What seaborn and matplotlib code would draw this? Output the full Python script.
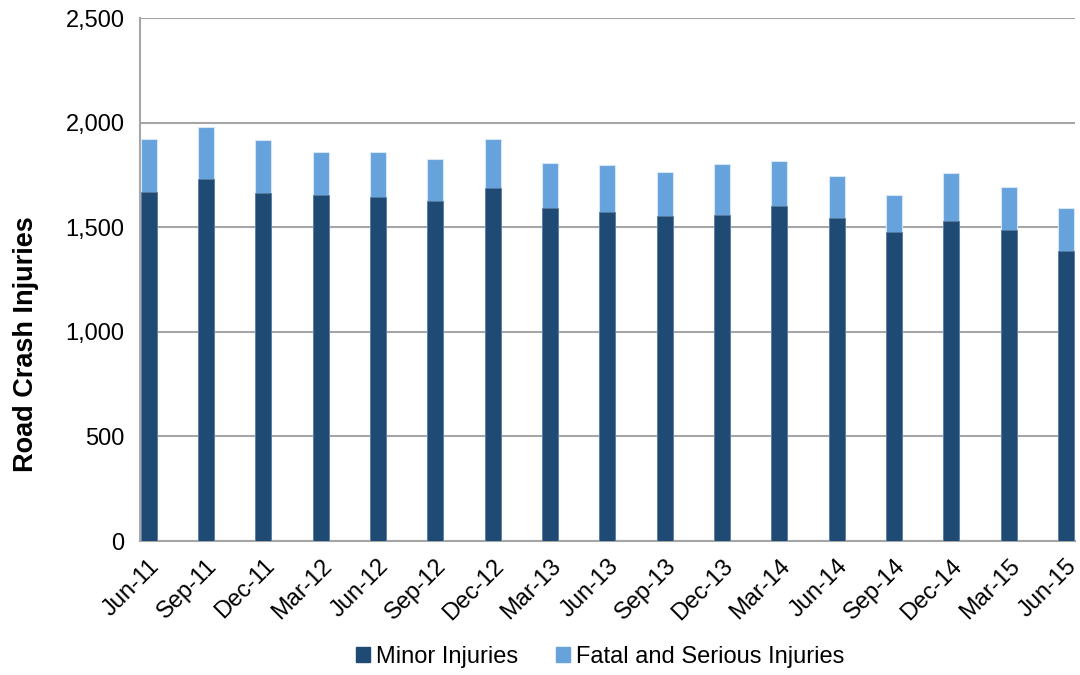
import matplotlib
matplotlib.use("Agg")
import matplotlib.pyplot as plt
import seaborn as sns
import pandas as pd
from matplotlib.patches import Patch
from matplotlib.ticker import FuncFormatter

quarters = ["Jun-11", "Sep-11", "Dec-11", "Mar-12", "Jun-12", "Sep-12", "Dec-12",
            "Mar-13", "Jun-13", "Sep-13", "Dec-13", "Mar-14", "Jun-14", "Sep-14",
            "Dec-14", "Mar-15", "Jun-15"]
minor = [1668, 1730, 1665, 1653, 1647, 1624, 1690, 1591, 1572, 1555, 1557,
         1601, 1545, 1476, 1530, 1486, 1385]
total = [1923, 1979, 1918, 1859, 1862, 1828, 1923, 1808, 1799, 1763, 1804,
         1816, 1744, 1653, 1760, 1693, 1593]

df = pd.DataFrame({"quarter": quarters, "minor": minor, "total": total})

sns.set_style("white")
plt.rcParams["font.family"] = ["Liberation Sans", "DejaVu Sans"]
plt.rcParams["text.color"] = "black"
plt.rcParams["axes.labelcolor"] = "black"
plt.rcParams["xtick.color"] = "black"
plt.rcParams["ytick.color"] = "black"

minor_col = "#1F4A73"
fatal_col = "#66A2DC"
grid_col = "#A6A6A6"

fig = plt.figure(figsize=(10.8, 6.75), dpi=100)
ax = fig.add_axes([0.1296, 0.1985, 0.8654, 0.7745])

sns.barplot(data=df, x="quarter", y="total", color=fatal_col, width=0.28,
            saturation=1, edgecolor="#D6E6F5", linewidth=0.8, ax=ax, zorder=3)
sns.barplot(data=df, x="quarter", y="minor", color=minor_col, width=0.28,
            saturation=1, edgecolor="#5C7D9E", linewidth=0.6, ax=ax, zorder=3)

ax.set_ylim(0, 2500)
ax.set_yticks(range(0, 2501, 500))
ax.set_xlim(-0.15, len(quarters) - 0.85)
ax.yaxis.set_major_formatter(FuncFormatter(lambda v, p: f"{int(v):,}"))
ax.yaxis.grid(True, color=grid_col, linewidth=1.5, zorder=0)
ax.set_axisbelow(True)

for s in ["top", "right"]:
    ax.spines[s].set_visible(False)
for s in ["left", "bottom"]:
    ax.spines[s].set_color(grid_col)
    ax.spines[s].set_linewidth(1.5)

ax.tick_params(axis="y", labelsize=17, length=6, color=grid_col, width=1.2, pad=5)
ax.tick_params(axis="x", labelsize=17, length=0, pad=10)
plt.setp(ax.get_xticklabels(), rotation=45, ha="right", rotation_mode="anchor")

ax.set_xlabel("")
ax.set_ylabel("Road Crash Injuries", fontsize=19.5, fontweight="bold")
ax.yaxis.set_label_coords(-0.108, 0.377)

handles = [Patch(color=minor_col, label="Minor Injuries"),
           Patch(color=fatal_col, label="Fatal and Serious Injuries")]
fig.legend(handles=handles, loc="center", bbox_to_anchor=(0.556, 0.027), ncol=2,
           frameon=False, fontsize=17, handlelength=0.6, handleheight=0.6,
           handletextpad=0.25, columnspacing=1.6)

fig.savefig("out.png", dpi=100)
